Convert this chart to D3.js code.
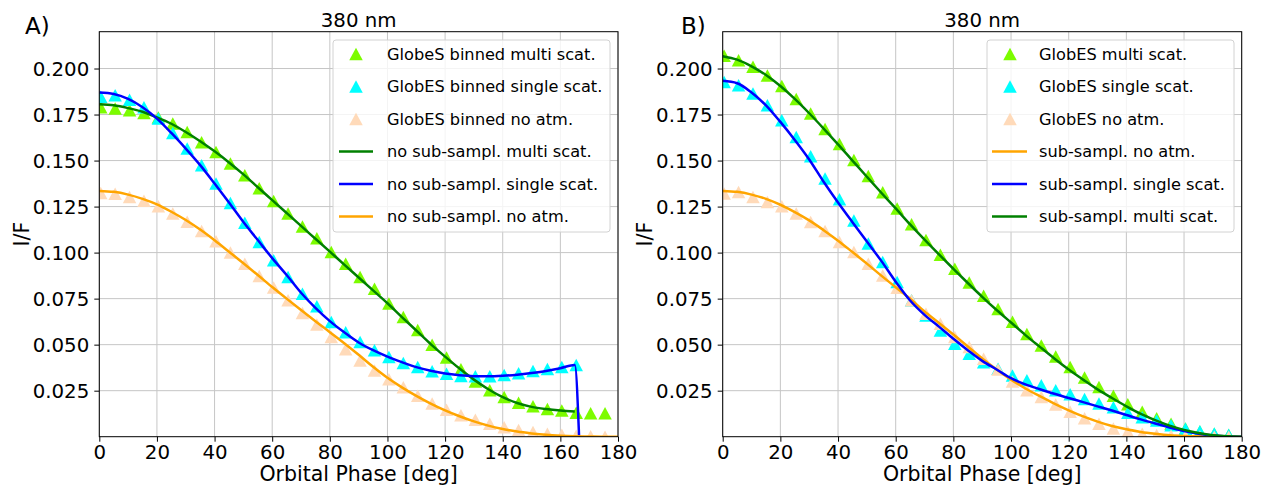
<!DOCTYPE html>
<html><head><meta charset="utf-8">
<script src="https://cdn.jsdelivr.net/npm/d3@7"></script>
<style>
html,body{margin:0;padding:0;background:#fff;}
svg text{font-family:"DejaVu Sans",sans-serif;fill:#000;}
</style></head>
<body><svg id="chart" width="1270" height="486"></svg>
<script>
// ---------- data ----------
const binPhase = [0.5,5.5,10.5,15.5,20.5,25.5,30.5,35.5,40.5,45.5,50.5,55.5,60.5,65.5,70.5,75.5,80.5,85.5,90.5,95.5,100.5,105.5,110.5,115.5,120.5,125.5,130.5,135.5,140.5,145.5,150.5,155.5,160.5,165.5,170.5,175.5];
const linePhase = [0,5,10,15,20,25,30,35,40,45,50,55,60,65,70,75,80,85,90,95,100,105,110,115,120,125,130,135,140,145,150,155,160,165,170,175,180];
const xTicks = [0,20,40,60,80,100,120,140,160,180];
const yTicks = [0.025,0.050,0.075,0.100,0.125,0.150,0.175,0.200];
const yTickLabels = ["0.025","0.050","0.075","0.100","0.125","0.150","0.175","0.200"];

// Panel A: GlobES binned (triangles)
const multiBinA = [0.1790,0.1783,0.1773,0.1759,0.1734,0.1701,0.1655,0.1600,0.1547,0.1484,0.1420,0.1350,0.1280,0.1212,0.1142,0.1078,0.1003,0.0940,0.0867,0.0804,0.0723,0.0650,0.0580,0.0500,0.0430,0.0366,0.0300,0.0252,0.0215,0.0185,0.0166,0.0150,0.0143,0.0130,0.0127,0.0127];
const singleBinA = [0.1846,0.1855,0.1831,0.1790,0.1728,0.1650,0.1565,0.1474,0.1375,0.1270,0.1162,0.1058,0.0958,0.0867,0.0777,0.0708,0.0623,0.0568,0.0514,0.0469,0.0433,0.0400,0.0378,0.0355,0.0342,0.0330,0.0328,0.0328,0.0335,0.0345,0.0357,0.0368,0.0378,0.0390];
const noAtmBinA = [0.1324,0.1320,0.1302,0.1282,0.1252,0.1212,0.1168,0.1118,0.1062,0.1000,0.0940,0.0873,0.0810,0.0741,0.0672,0.0610,0.0541,0.0475,0.0414,0.0360,0.0312,0.0268,0.0222,0.0180,0.0146,0.0116,0.0092,0.0071,0.0052,0.0036,0.0025,0.0016,0.0010,0.0005,0.0002,0.0000];
// Panel A: no sub-sampling (lines)
const multiLineA = [0.1806,0.1800,0.1785,0.1765,0.1735,0.1700,0.1655,0.1605,0.1550,0.1490,0.1425,0.1355,0.1285,0.1215,0.1145,0.1075,0.1005,0.0935,0.0865,0.0795,0.0725,0.0650,0.0577,0.0503,0.0435,0.0370,0.0310,0.0258,0.0215,0.0183,0.0162,0.0150,0.0142,0.0137];
const singleLinePhaseA = [0,5,10,15,20,25,30,35,40,45,50,55,60,65,70,75,80,85,90,95,100,105,110,115,120,125,130,135,140,145,150,155,160,165,166.5];
const singleLineA = [0.1870,0.1862,0.1835,0.1790,0.1728,0.1650,0.1565,0.1475,0.1375,0.1272,0.1166,0.1068,0.0970,0.0878,0.0782,0.0700,0.0628,0.0567,0.0512,0.0470,0.0435,0.0405,0.0378,0.0358,0.0343,0.0334,0.0329,0.0328,0.0331,0.0337,0.0346,0.0357,0.0372,0.0390,0.0000];
const noAtmLineA = [0.1335,0.1330,0.1315,0.1292,0.1262,0.1222,0.1177,0.1125,0.1067,0.1005,0.0942,0.0878,0.0813,0.0750,0.0688,0.0627,0.0568,0.0508,0.0445,0.0380,0.0320,0.0268,0.0222,0.0180,0.0143,0.0111,0.0083,0.0060,0.0042,0.0028,0.0018,0.0010,0.0005,0.0002,0.0001,0.0000,0.0000];

// Panel B: GlobES (triangles)
const multiBinB = [0.2070,0.2045,0.2009,0.1962,0.1905,0.1835,0.1755,0.1672,0.1590,0.1503,0.1416,0.1328,0.1240,0.1154,0.1068,0.0988,0.0912,0.0838,0.0765,0.0694,0.0625,0.0558,0.0495,0.0435,0.0378,0.0322,0.0270,0.0222,0.0176,0.0135,0.0100,0.0070,0.0045,0.0028,0.0016,0.0009];
const singleBinB = [0.1927,0.1909,0.1864,0.1800,0.1719,0.1628,0.1523,0.1402,0.1290,0.1175,0.1049,0.0949,0.0840,0.0741,0.0659,0.0577,0.0505,0.0451,0.0405,0.0369,0.0333,0.0306,0.0279,0.0252,0.0230,0.0205,0.0180,0.0160,0.0130,0.0106,0.0088,0.0062,0.0043,0.0030,0.0018,0.0010];
const noAtmBinB = [0.1321,0.1329,0.1302,0.1275,0.1252,0.1212,0.1166,0.1117,0.1058,0.1003,0.0940,0.0876,0.0809,0.0741,0.0668,0.0614,0.0541,0.0487,0.0424,0.0365,0.0300,0.0252,0.0215,0.0175,0.0135,0.0100,0.0071,0.0045,0.0027,0.0016,0.0009,0.0005,0.0002,0.0001,0.0000,0.0000];
// Panel B: sub-sampled (lines)
const noAtmLineB = [0.1335,0.1330,0.1315,0.1292,0.1260,0.1220,0.1175,0.1122,0.1065,0.1003,0.0940,0.0875,0.0812,0.0750,0.0680,0.0618,0.0555,0.0490,0.0425,0.0365,0.0310,0.0262,0.0220,0.0180,0.0143,0.0110,0.0082,0.0058,0.0040,0.0026,0.0016,0.0008,0.0004,0.0002,0.0001,0.0000,0.0000];
const singleLineB = [0.1933,0.1920,0.1870,0.1800,0.1710,0.1612,0.1506,0.1385,0.1272,0.1165,0.1060,0.0955,0.0842,0.0740,0.0662,0.0598,0.0532,0.0470,0.0412,0.0365,0.0318,0.0284,0.0258,0.0233,0.0210,0.0188,0.0165,0.0142,0.0118,0.0094,0.0072,0.0050,0.0031,0.0016,0.0006,0.0001,0.0000];
const multiLineB = [0.2067,0.2048,0.2012,0.1965,0.1905,0.1835,0.1757,0.1674,0.1588,0.1500,0.1412,0.1325,0.1240,0.1153,0.1070,0.0990,0.0912,0.0835,0.0760,0.0688,0.0620,0.0552,0.0488,0.0425,0.0365,0.0310,0.0257,0.0210,0.0165,0.0124,0.0090,0.0060,0.0037,0.0020,0.0008,0.0002,0.0000];

const C = {green:"#7CFC00", cyan:"#00FFFF", peach:"#FFDAB9", dgreen:"#008000", blue:"#0000FF", orange:"#FFA500"};

const panels = [
  { id:"A", label:"A)", left:99.3, right:618, labelX:25, yLabelX:28.6,
    tri:[ {ph:binPhase, v:multiBinA, c:C.green}, {ph:binPhase, v:singleBinA, c:C.cyan}, {ph:binPhase, v:noAtmBinA, c:C.peach} ],
    lines:[ {ph:linePhase, v:multiLineA, c:C.dgreen}, {ph:singleLinePhaseA, v:singleLineA, c:C.blue}, {ph:linePhase, v:noAtmLineA, c:C.orange} ],
    legend:{x:333, w:277, mx:356, lx1:339, lx2:373, tx:387,
      items:[ {t:"tri", c:C.green, s:"GlobeS binned multi scat."}, {t:"tri", c:C.cyan, s:"GlobES binned single scat."}, {t:"tri", c:C.peach, s:"GlobES binned no atm."},
              {t:"line", c:C.dgreen, s:"no sub-sampl. multi scat."}, {t:"line", c:C.blue, s:"no sub-sampl. single scat."}, {t:"line", c:C.orange, s:"no sub-sampl. no atm."} ] } },
  { id:"B", label:"B)", left:722.7, right:1241.7, labelX:681, yLabelX:652,
    tri:[ {ph:binPhase, v:multiBinB, c:C.green}, {ph:binPhase, v:singleBinB, c:C.cyan}, {ph:binPhase, v:noAtmBinB, c:C.peach} ],
    lines:[ {ph:linePhase, v:noAtmLineB, c:C.orange}, {ph:linePhase, v:singleLineB, c:C.blue}, {ph:linePhase, v:multiLineB, c:C.dgreen} ],
    legend:{x:987, w:247, mx:1010, lx1:992, lx2:1027, tx:1039,
      items:[ {t:"tri", c:C.green, s:"GlobES multi scat."}, {t:"tri", c:C.cyan, s:"GlobES single scat."}, {t:"tri", c:C.peach, s:"GlobES no atm."},
              {t:"line", c:C.orange, s:"sub-sampl. no atm."}, {t:"line", c:C.blue, s:"sub-sampl. single scat."}, {t:"line", c:C.dgreen, s:"sub-sampl. multi scat."} ] } }
];

const svg = d3.select("#chart");
const plotTop = 31.7, plotBottom = 436.7;
const triW = 13.5, triH = 12.5;
const triPath = `M0,${-triH/2}L${triW/2},${triH/2}L${-triW/2},${triH/2}Z`;

panels.forEach(p => {
  const x = d3.scaleLinear().domain([0,180]).range([p.left, p.right]);
  const y = d3.scaleLinear().domain([0,0.22]).range([plotBottom, plotTop]);
  const g = svg.append("g");
  const clipId = "clip" + p.id;
  svg.append("defs").append("clipPath").attr("id", clipId)
    .append("rect").attr("x", p.left).attr("y", plotTop).attr("width", p.right - p.left).attr("height", plotBottom - plotTop);

  g.append("g").selectAll("line").data(xTicks).join("line")
    .attr("x1", d => x(d)).attr("x2", d => x(d)).attr("y1", plotTop).attr("y2", plotBottom)
    .attr("stroke", "#c6c6c6").attr("stroke-width", 1);
  g.append("g").selectAll("line").data(yTicks).join("line")
    .attr("x1", p.left).attr("x2", p.right).attr("y1", d => y(d)).attr("y2", d => y(d))
    .attr("stroke", "#c6c6c6").attr("stroke-width", 1);

  const plot = g.append("g").attr("clip-path", `url(#${clipId})`);
  p.tri.forEach(s => {
    plot.append("g").selectAll("path").data(s.v.map((v,i) => [s.ph[i], v])).join("path")
      .attr("d", triPath).attr("transform", d => `translate(${x(d[0])},${y(d[1])})`)
      .attr("fill", s.c);
  });
  const lineGen = d3.line().x(d => x(d[0])).y(d => y(d[1])).curve(d3.curveMonotoneX);
  p.lines.forEach(s => {
    plot.append("path").datum(s.v.map((v,i) => [s.ph[i], v]))
      .attr("d", lineGen).attr("fill", "none").attr("stroke", s.c).attr("stroke-width", 2.5)
      .attr("stroke-linejoin", "round");
  });

  const xAxis = d3.axisBottom(x).tickValues(xTicks).tickSize(5).tickPadding(5).tickFormat(d3.format("d"));
  const yAxis = d3.axisLeft(y).tickValues(yTicks).tickSize(5).tickPadding(5).tickFormat((d,i) => yTickLabels[i]);
  const gx = g.append("g").attr("transform", `translate(0,${plotBottom})`).call(xAxis);
  const gy = g.append("g").attr("transform", `translate(${p.left},0)`).call(yAxis);
  [gx, gy].forEach(a => {
    a.select(".domain").remove();
    a.selectAll("text").attr("font-size", 19.8).attr("font-family", "DejaVu Sans").attr("fill", "#000");
    a.selectAll("line").attr("stroke", "#000");
  });
  gx.selectAll("text").attr("dy", null).attr("y", 22);
  gy.selectAll("text").attr("dy", "0.36em");
  g.append("rect").attr("x", p.left).attr("y", plotTop).attr("width", p.right - p.left).attr("height", plotBottom - plotTop)
    .attr("fill", "none").attr("stroke", "#000").attr("stroke-width", 1);

  g.append("text").attr("x", (p.left + p.right)/2).attr("y", 26.5).attr("text-anchor", "middle").attr("font-size", 19.8).text("380 nm");
  g.append("text").attr("x", p.labelX).attr("y", 34).attr("font-size", 23).text(p.label);
  g.append("text").attr("x", (p.left + p.right)/2).attr("y", 480.5).attr("text-anchor", "middle").attr("font-size", 20.5).text("Orbital Phase [deg]");
  g.append("text").attr("transform", `translate(${p.yLabelX},${(plotTop+plotBottom)/2}) rotate(-90)`).attr("text-anchor", "middle").attr("font-size", 20.5).text("I/F");

  const L = p.legend;
  const lg = g.append("g");
  lg.append("rect").attr("x", L.x).attr("y", 40).attr("width", L.w).attr("height", 192).attr("rx", 3)
    .attr("fill", "#fff").attr("fill-opacity", 0.8).attr("stroke", "#d2d2d2").attr("stroke-width", 1);
  L.items.forEach((it, i) => {
    const cy = 54 + i * 32.5;
    if (it.t === "tri") {
      lg.append("path").attr("d", triPath).attr("transform", `translate(${L.mx},${cy})`).attr("fill", it.c);
    } else {
      lg.append("line").attr("x1", L.lx1).attr("x2", L.lx2).attr("y1", cy).attr("y2", cy).attr("stroke", it.c).attr("stroke-width", 2.5);
    }
    lg.append("text").attr("x", L.tx).attr("y", cy + 5.8).attr("font-size", 16.2).text(it.s);
  });
});
</script></body></html>
